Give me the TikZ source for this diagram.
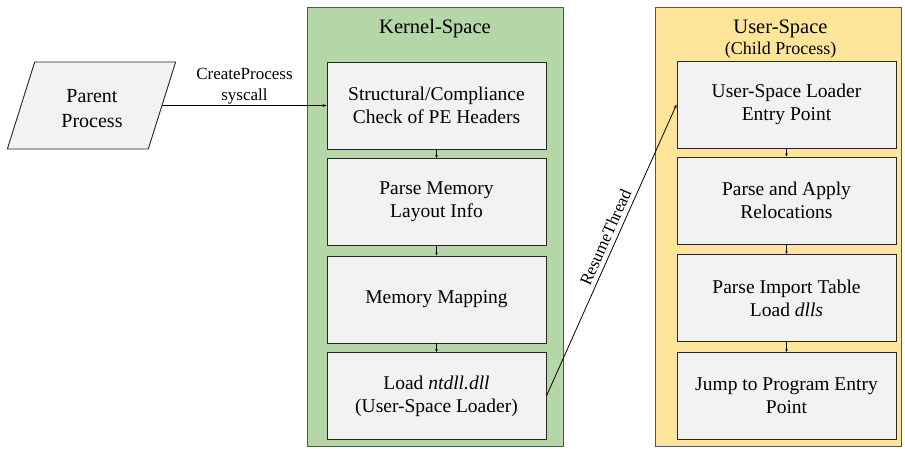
\documentclass[tikz,border=0pt]{standalone}
\usepackage{fontspec}
\setmainfont{Liberation Serif}
\usetikzlibrary{arrows.meta,shapes.geometric}

\definecolor{kernelfill}{HTML}{B5D6A7}
\definecolor{userfill}{HTML}{FFE599}
\definecolor{stepfill}{HTML}{F2F2F2}
\definecolor{framegray}{HTML}{555555}

\tikzset{
  region/.style={draw=framegray, line width=1pt, minimum width=#1, minimum height=439pt, inner sep=0pt},
  stepbox/.style={draw=black!85, fill=stepfill, line width=0.9pt, minimum width=219pt,
    minimum height=87pt, align=center, inner sep=0pt, font=\fontsize{19.5}{23}\selectfont},
  titletext/.style={font=\fontsize{20.5}{24}\selectfont, inner sep=0pt},
  subtext/.style={font=\fontsize{18}{21}\selectfont, inner sep=0pt},
  edgetext/.style={font=\fontsize{17}{21}\selectfont, align=center},
  flow/.style={-{Stealth[length=4pt,width=3pt]}, line width=0.8pt},
  smallflow/.style={-{Stealth[length=3pt,width=2.5pt]}, line width=0.7pt},
}

\begin{document}
\begin{tikzpicture}[x=1pt,y=-1pt]
\useasboundingbox (0,0) rectangle (905,448);

% Parent process (input/output parallelogram) and its label
\node[trapezium, trapezium stretches=true, trapezium left angle=69, trapezium right angle=111,
      draw=black!85, fill=stepfill, line width=0.9pt, minimum width=169pt, minimum height=87pt,
      align=center, inner sep=0pt, font=\fontsize{20}{25}\selectfont]
  (parent) at (91.5,105.5) {\phantom{Parent}\\\phantom{Process}};
\node[align=center, inner sep=0pt, font=\fontsize{20}{25}\selectfont]
  (parentlabel) at (92,108.5) {Parent\\Process};

% Kernel-space region
\node[region=256pt, fill=kernelfill] (kernel) at (435,226.5) {};
\node[titletext] (ktitle) at (435,28.5) {Kernel-Space};

\node[stepbox] (k1) at (436.5,105.5) {Structural/Compliance\\Check of PE Headers};
\node[stepbox] (k2) at (436.5,202)   {Parse Memory\\Layout Info};
\node[stepbox] (k3) at (436.5,299.5) {Memory Mapping};
\node[stepbox] (k4) at (436.5,396)   {Load \textit{ntdll.dll}\\(User-Space Loader)};

% User-space region
\node[region=246pt, fill=userfill] (user) at (778,226.5) {};
\node[titletext] (utitle) at (780.5,28.5) {User-Space};
\node[subtext] (usub) at (780.5,50.5) {(Child Process)};

\node[stepbox] (u1) at (786.5,104.5) {User-Space Loader\\Entry Point};
\node[stepbox] (u2) at (786.5,200.5) {Parse and Apply\\Relocations};
\node[stepbox] (u3) at (786.5,298)   {Parse Import Table\\Load \textit{dlls}};
\node[stepbox] (u4) at (786.5,396)   {Jump to Program Entry\\Point};

% Connectors
\draw[flow] (parent.east) -- node[edgetext, above, inner sep=0.5pt] {CreateProcess\\syscall} (k1.west);

\draw[smallflow] (k1) -- (k2);
\draw[smallflow] (k2) -- (k3);
\draw[smallflow] (k3) -- (k4);

\draw[smallflow] (u1) -- (u2);
\draw[smallflow] (u2) -- (u3);
\draw[smallflow] (u3) -- (u4);

\draw[flow] (k4.east) -- node[edgetext, sloped, above, pos=0.53, inner sep=4.5pt] {ResumeThread} (u1.west);
\end{tikzpicture}
\end{document}
